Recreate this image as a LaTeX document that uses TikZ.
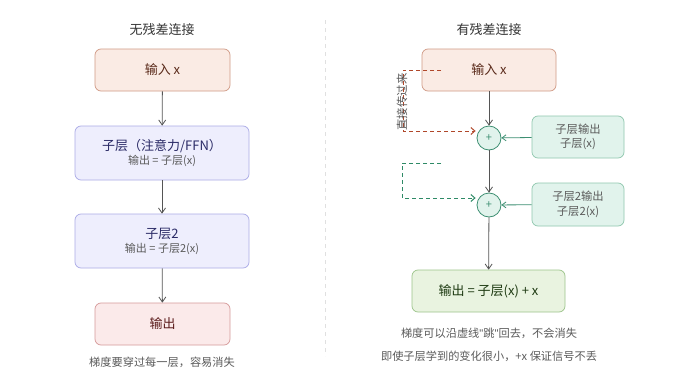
\documentclass[tikz,border=0pt]{standalone}
\usepackage{fontspec}
\setmainfont{Noto Sans CJK SC}
\newfontfamily\qfont{Liberation Sans}
\usetikzlibrary{arrows.meta}
\definecolor{inF}{HTML}{FAEBE4}
\definecolor{inD}{HTML}{D09A85}
\definecolor{inT}{HTML}{5A2A1A}
\definecolor{subF}{HTML}{EEEEFD}
\definecolor{subD}{HTML}{AAAAE6}
\definecolor{subT}{HTML}{2A2A66}
\definecolor{outF}{HTML}{FBEAEA}
\definecolor{outD}{HTML}{D69A9A}
\definecolor{outT}{HTML}{5A1A1A}
\definecolor{gF}{HTML}{E1F3EC}
\definecolor{gD}{HTML}{8FC7AE}
\definecolor{gC}{HTML}{3D8F72}
\definecolor{rF}{HTML}{E9F3E0}
\definecolor{rD}{HTML}{9CC48A}
\definecolor{rT}{HTML}{1E3A12}
\definecolor{redd}{HTML}{B0472A}
\definecolor{greend}{HTML}{2E8A66}
\definecolor{txt}{HTML}{5A5A5A}
\definecolor{arr}{HTML}{555555}
\tikzset{
  box/.style={draw, rounded corners=6pt, line width=0.7pt, align=center, inner sep=0pt},
  titletext/.style={font=\fontsize{13}{15}\selectfont, text=black!80},
  captext/.style={font=\fontsize{11.2}{13}\selectfont, text=txt},
  flow/.style={draw=arr, line width=0.8pt, -{Straight Barb[length=5pt,width=7pt]}},
  plus/.style={circle, draw=gC, fill=gF, line width=0.8pt, minimum size=24pt, inner sep=0pt, text=gC, font=\fontsize{11}{11}\selectfont},
  mainfont/.style={font=\fontsize{13}{15}\selectfont},
}
\begin{document}
\begin{tikzpicture}[x=1pt,y=-1pt]
\useasboundingbox (0,0) rectangle (675,380);
\fill[white] (0,0) rectangle (675,380);
% divider
\draw[black!12, line width=0.8pt, dash pattern=on 4pt off 4pt] (325,20) -- (325,356);

% ---- left ----
\node[titletext] (tl) at (162,30) {无残差连接};
\node[box, fill=inF, draw=inD, text=inT, minimum width=135pt, minimum height=42pt, mainfont] (l1) at (162.5,70) {输入 x};
\node[box, fill=subF, draw=subD, minimum width=174pt, minimum height=54pt] (l2) at (162,153)
  {{\fontsize{13}{15}\selectfont\color{subT}子层（注意力/FFN）}\\[2pt]{\fontsize{11}{12}\selectfont\color{txt}输出 = 子层(x)}};
\node[box, fill=subF, draw=subD, minimum width=174pt, minimum height=54pt] (l3) at (162,241)
  {{\fontsize{13}{15}\selectfont\color{subT}子层2}\\[2pt]{\fontsize{11}{12}\selectfont\color{txt}输出 = 子层2(x)}};
\node[box, fill=outF, draw=outD, text=outT, minimum width=135pt, minimum height=42pt, mainfont] (l4) at (162.5,324) {输出};
\draw[flow] (l1) -- (l2);
\draw[flow] (l2) -- (l3);
\draw[flow] (l3) -- (l4);
\node[captext] (lc) at (162,362) {梯度要穿过每一层，容易消失};

% ---- right ----
\node[titletext] (tr) at (489,30) {有残差连接};
\node[box, fill=inF, draw=inD, text=inT, minimum width=134pt, minimum height=42pt, mainfont] (r1) at (489,70) {输入 x};
\node[plus] (p1) at (489,138) {+};
\node[plus] (p2) at (489,205) {+};
\node[box, fill=gF, draw=gD, text=txt, minimum width=92pt, minimum height=42pt, font=\fontsize{11.3}{14.5}\selectfont] (s1) at (578,137) {子层输出\\子层(x)};
\node[box, fill=gF, draw=gD, text=txt, minimum width=92pt, minimum height=43pt, font=\fontsize{11.3}{14.5}\selectfont] (s2) at (578,204.5) {子层2输出\\子层2(x)};
\node[box, fill=rF, draw=rD, text=rT, minimum width=153pt, minimum height=42pt, mainfont] (r3) at (488.5,291) {输出 = 子层(x) + x};
\draw[flow] (r1) -- (p1);
\draw[flow] (p1) -- (p2);
\draw[flow] (p2) -- (r3);
\draw[draw=gC, line width=0.8pt, -{Straight Barb[length=4pt,width=6pt]}] (s1) -- (p1);
\draw[draw=gC, line width=0.8pt, -{Straight Barb[length=4pt,width=6pt]}] (s2) -- (p2);

% skip connections
\coordinate (ra) at (441,70);
\coordinate (rb) at (403,70);
\coordinate (rc) at (403,131);
\coordinate (rd) at (p1.west |- rc);
\draw[redd, line width=1pt, dash pattern=on 4pt off 3pt, -{Straight Barb[length=4pt,width=7pt]}]
  (ra) -- (rb) -- (rc) -- ([xshift=-1pt]rd);
\coordinate (ga) at (441,163);
\coordinate (gb) at (402,163);
\coordinate (gc) at (402,198);
\coordinate (gd) at (p2.west |- gc);
\draw[greend, line width=1pt, dash pattern=on 4pt off 3pt, -{Straight Barb[length=4pt,width=7pt]}]
  (ga) -- (gb) -- (gc) -- ([xshift=-1pt]gd);
\node[rotate=90, text=txt, font=\fontsize{11.5}{12}\selectfont, inner sep=0pt] (lab) at (402,102) {直接传过来};

\node[captext] (rc1) at (489,333) {梯度可以沿虚线{\qfont"}跳{\qfont"}回去，不会消失};
\node[captext] (rc2) at (489,356) {即使子层学到的变化很小，+x 保证信号不丢};
\end{tikzpicture}
\end{document}
